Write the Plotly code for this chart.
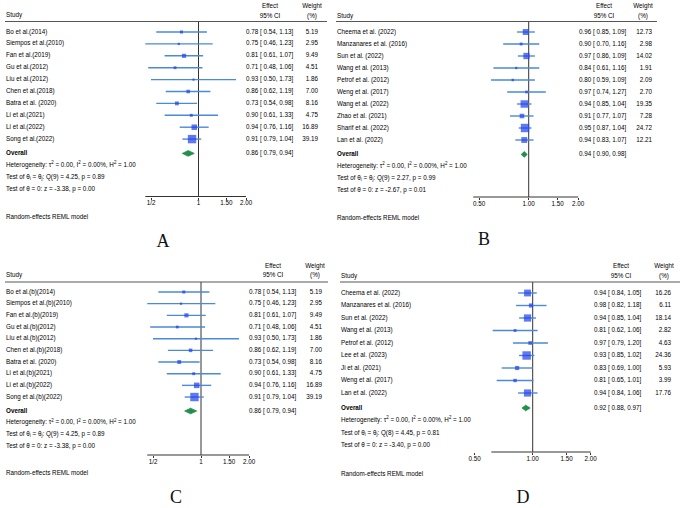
import math
import plotly.graph_objects as go

W, H = 682, 508

# ---------------- data ----------------
# Panel A
a_studies = ["Bo et al.(2014)", "Siempos et al.(2010)", "Fan et al.(2019)", "Gu et al.(2012)",
             "Liu et al.(2012)", "Chen et al.(2018)", "Batra et al. (2020)", "Li et al.(2021)",
             "Li et al.(2022)", "Song et al.(2022)"]
a_effect = [0.78, 0.75, 0.81, 0.71, 0.93, 0.86, 0.73, 0.90, 0.94, 0.91]
a_lower = [0.54, 0.46, 0.61, 0.48, 0.50, 0.62, 0.54, 0.61, 0.76, 0.79]
a_upper = [1.13, 1.23, 1.07, 1.06, 1.73, 1.19, 0.98, 1.33, 1.16, 1.04]
a_weight = [5.19, 2.95, 9.49, 4.51, 1.86, 7.00, 8.16, 4.75, 16.89, 39.19]
a_overall = [0.86, 0.79, 0.94]
a_het = "Heterogeneity: τ<sup>2</sup> = 0.00, I<sup>2</sup> = 0.00%, H<sup>2</sup> = 1.00"
a_q = "Test of θ<sub>i</sub> = θ<sub>j</sub>: Q(9) = 4.25, p = 0.89"
a_z = "Test of θ = 0: z = -3.38, p = 0.00"
a_ticktext = ["1/2", "1", "1.50", "2.00"]

# Panel B
b_studies = ["Cheema et al. (2022)", "Manzanares et al. (2016)", "Sun et al. (2022)", "Wang et al. (2013)",
             "Petrof et al. (2012)", "Weng et al. (2017)", "Wang et al. (2022)", "Zhao et al. (2021)",
             "Sharif et al. (2022)", "Lan et al. (2022)"]
b_effect = [0.96, 0.90, 0.97, 0.84, 0.80, 0.97, 0.94, 0.91, 0.95, 0.94]
b_lower = [0.85, 0.70, 0.86, 0.61, 0.59, 0.74, 0.85, 0.77, 0.87, 0.83]
b_upper = [1.09, 1.16, 1.09, 1.16, 1.09, 1.27, 1.04, 1.07, 1.04, 1.07]
b_weight = [12.73, 2.98, 14.02, 1.91, 2.09, 2.70, 19.35, 7.28, 24.72, 12.21]
b_overall = [0.94, 0.90, 0.98]
b_het = "Heterogeneity: τ<sup>2</sup> = 0.00, I<sup>2</sup> = 0.00%, H<sup>2</sup> = 1.00"
b_q = "Test of θ<sub>i</sub> = θ<sub>j</sub>: Q(9) = 2.27, p = 0.99"
b_z = "Test of θ = 0: z = -2.67, p = 0.01"
b_ticktext = ["0.50", "1.00", "1.50", "2.00"]

# Panel C
c_studies = ["Bo et al.(b)(2014)", "Siempos et al.(b)(2010)", "Fan et al.(b)(2019)", "Gu et al.(b)(2012)",
             "Liu et al.(b)(2012)", "Chen et al.(b)(2018)", "Batra et al. (2020)", "Li et al.(b)(2021)",
             "Li et al.(b)(2022)", "Song et al.(b)(2022)"]
c_effect = [0.78, 0.75, 0.81, 0.71, 0.93, 0.86, 0.73, 0.90, 0.94, 0.91]
c_lower = [0.54, 0.46, 0.61, 0.48, 0.50, 0.62, 0.54, 0.61, 0.76, 0.79]
c_upper = [1.13, 1.23, 1.07, 1.06, 1.73, 1.19, 0.98, 1.33, 1.16, 1.04]
c_weight = [5.19, 2.95, 9.49, 4.51, 1.86, 7.00, 8.16, 4.75, 16.89, 39.19]
c_overall = [0.86, 0.79, 0.94]
c_het = "Heterogeneity: τ<sup>2</sup> = 0.00, I<sup>2</sup> = 0.00%, H<sup>2</sup> = 1.00"
c_q = "Test of θ<sub>i</sub> = θ<sub>j</sub>: Q(9) = 4.25, p = 0.89"
c_z = "Test of θ = 0: z = -3.38, p = 0.00"
c_ticktext = ["1/2", "1", "1.50", "2.00"]

# Panel D
d_studies = ["Cheema et al. (2022)", "Manzanares et al. (2016)", "Sun et al. (2022)", "Wang et al. (2013)",
             "Petrof et al. (2012)", "Lee et al. (2023)", "Ji et al. (2021)", "Weng et al. (2017)",
             "Lan et al. (2022)"]
d_effect = [0.94, 0.98, 0.94, 0.81, 0.97, 0.93, 0.83, 0.81, 0.94]
d_lower = [0.84, 0.82, 0.85, 0.62, 0.79, 0.85, 0.69, 0.65, 0.84]
d_upper = [1.05, 1.18, 1.04, 1.06, 1.20, 1.02, 1.00, 1.01, 1.06]
d_weight = [16.26, 6.11, 18.14, 2.82, 4.63, 24.36, 5.93, 3.99, 17.76]
d_overall = [0.92, 0.88, 0.97]
d_het = "Heterogeneity: τ<sup>2</sup> = 0.00, I<sup>2</sup> = 0.00%, H<sup>2</sup> = 1.00"
d_q = "Test of θ<sub>i</sub> = θ<sub>j</sub>: Q(8) = 4.45, p = 0.81"
d_z = "Test of θ = 0: z = -3.40, p = 0.00"
d_ticktext = ["0.50", "1.00", "1.50", "2.00"]

tickvals = [0.5, 1, 1.5, 2]
model_label = "Random-effects REML model"

panels_data = [
    dict(studies=a_studies, eff=a_effect, lo=a_lower, hi=a_upper, wt=a_weight, ov=a_overall,
         het=a_het, q=a_q, z=a_z, ticktext=a_ticktext, letter="A"),
    dict(studies=b_studies, eff=b_effect, lo=b_lower, hi=b_upper, wt=b_weight, ov=b_overall,
         het=b_het, q=b_q, z=b_z, ticktext=b_ticktext, letter="B"),
    dict(studies=c_studies, eff=c_effect, lo=c_lower, hi=c_upper, wt=c_weight, ov=c_overall,
         het=c_het, q=c_q, z=c_z, ticktext=c_ticktext, letter="C"),
    dict(studies=d_studies, eff=d_effect, lo=d_lower, hi=d_upper, wt=d_weight, ov=d_overall,
         het=d_het, q=d_q, z=d_z, ticktext=d_ticktext, letter="D"),
]

# ---------------- layout geometry (pixels) ----------------
geom = [
    dict(x1=198.5, k2=47.5, y0=32, dy=11.9, axis_y=196.5, axis_lo=0.46, name_x=6, eff_x=246, wt_x=318,
         eff_hx=270, wt_hx=312, hdr1=6, hdr2=16, study_y=15, line_y=21.5, line_x=(5, 327), re_y=217,
         let_x=163, let_y=242),
    dict(x1=528.7, k2=49.5, y0=32, dy=12.0, axis_y=197, axis_lo=0.46, name_x=337, eff_x=579, wt_x=652,
         eff_hx=604, wt_hx=643, hdr1=6, hdr2=16, study_y=16.5, line_y=21.5, line_x=(336, 657), re_y=218,
         let_x=484, let_y=240),
    dict(x1=201, k2=48, y0=292, dy=11.67, axis_y=455, axis_lo=0.46, name_x=6, eff_x=249, wt_x=322,
         eff_hx=273, wt_hx=315, hdr1=266, hdr2=275, study_y=275, line_y=282, line_x=(5, 328), re_y=473,
         let_x=176, let_y=498),
    dict(x1=532.7, k2=58, y0=293, dy=12.5, axis_y=452, axis_lo=0.61, name_x=341, eff_x=594, wt_x=671,
         eff_hx=621, wt_hx=664, hdr1=266, hdr2=276.5, study_y=276.5, line_y=282, line_x=(340, 680), re_y=474,
         let_x=523, let_y=498),
]

FONT = "Liberation Sans, Arial, Helvetica, sans-serif"
FS = 6.3
TXT = "#000000"
MARKER = "#1c3ff0"
CI = "#4a8ad9"
GREEN = "#21904a"
VLINE = "#333333"

fig = go.Figure()
layout = dict(
    width=W, height=H, margin=dict(l=0, r=0, t=0, b=0, pad=0),
    paper_bgcolor="white", plot_bgcolor="rgba(0,0,0,0)", showlegend=False,
    xaxis5=dict(domain=[0, 1], range=[0, W], visible=False, anchor="free", position=0, fixedrange=True),
)

LOG2 = math.log10(2)

for i, (pd_, g) in enumerate(zip(panels_data, geom)):
    n = len(pd_["studies"])
    xa = f"x{i+1}"
    ya = f"y{i+1}"
    xt = "x5"
    r = lambda px, g=g: (px - g["y0"]) / g["dy"]  # pixel -> row units
    rows = list(range(n))
    r_ov, r_het, r_q, r_z = n + 0.2, n + 1.2, n + 2.2, n + 3.2

    layout[f"yaxis{i+1}"] = dict(domain=[0, 1], range=[(H - g["y0"]) / g["dy"], -g["y0"] / g["dy"]],
                                 visible=False, anchor="free", position=0, fixedrange=True)
    layout[f"xaxis{i+1}"] = dict(
        type="log", domain=[0, 1],
        range=[(0 - g["x1"]) / g["k2"] * LOG2, (W - g["x1"]) / g["k2"] * LOG2],
        anchor="free", position=1 - g["axis_y"] / H,
        showline=False, showgrid=False, zeroline=False,
        tickmode="array", tickvals=tickvals, ticktext=pd_["ticktext"],
        ticks="outside", ticklen=2, tickwidth=1, tickcolor=VLINE, ticklabelstandoff=-2,
        tickfont=dict(family=FONT, size=FS, color=TXT), fixedrange=True,
    )

    # axis line (from lowest limit to 2)
    fig.add_trace(go.Scatter(x=[g["axis_lo"], 2.0], y=[r(g["axis_y"])] * 2, mode="lines",
                             line=dict(color=VLINE, width=1), xaxis=xa, yaxis=ya, hoverinfo="skip"))
    # null line at 1
    fig.add_trace(go.Scatter(x=[1, 1], y=[r(g["line_y"]), r(g["axis_y"])], mode="lines",
                             line=dict(color=VLINE, width=1), xaxis=xa, yaxis=ya, hoverinfo="skip"))
    # CI lines
    cx, cy = [], []
    for k in range(n):
        cx += [pd_["lo"][k], pd_["hi"][k], None]
        cy += [k, k, None]
    fig.add_trace(go.Scatter(x=cx, y=cy, mode="lines", line=dict(color=CI, width=1.4),
                             xaxis=xa, yaxis=ya, hoverinfo="skip"))
    # squares
    wmax = max(pd_["wt"])
    sizes = [max(2.2, 8.4 * math.sqrt(w / wmax)) for w in pd_["wt"]]
    fig.add_trace(go.Scatter(x=pd_["eff"], y=rows, mode="markers",
                             marker=dict(symbol="square", size=sizes, color=MARKER, line=dict(width=0)),
                             xaxis=xa, yaxis=ya, hoverinfo="skip"))
    # overall diamond
    e, lo, hi = pd_["ov"]
    hh = 2.8 / g["dy"]
    fig.add_trace(go.Scatter(x=[lo, e, hi, e, lo], y=[r_ov, r_ov - hh, r_ov, r_ov + hh, r_ov],
                             mode="lines", fill="toself", fillcolor=GREEN, line=dict(color=GREEN, width=0.8),
                             xaxis=xa, yaxis=ya, hoverinfo="skip"))

    # header line
    fig.add_trace(go.Scatter(x=list(g["line_x"]), y=[r(g["line_y"])] * 2, mode="lines",
                             line=dict(color="#444444", width=0.9), xaxis=xt, yaxis=ya, hoverinfo="skip"))

    tfont = dict(family=FONT, size=FS, color=TXT)
    # left column: names, overall, stats, model
    left_text = pd_["studies"] + ["<b>Overall</b>", pd_["het"], pd_["q"], pd_["z"], model_label, "Study"]
    left_y = rows + [r_ov, r_het, r_q, r_z, r(g["re_y"]), r(g["study_y"])]
    fig.add_trace(go.Scatter(x=[g["name_x"]] * len(left_text), y=left_y, text=left_text, mode="text",
                             textposition="middle right", textfont=tfont, xaxis=xt, yaxis=ya,
                             hoverinfo="skip", cliponaxis=False))
    # effect column
    eff_text = [f"{pd_['eff'][k]:.2f} [ {pd_['lo'][k]:.2f}, {pd_['hi'][k]:.2f}]" for k in range(n)]
    eff_text.append(f"{e:.2f} [ {lo:.2f}, {hi:.2f}]")
    fig.add_trace(go.Scatter(x=[g["eff_x"]] * (n + 1), y=rows + [r_ov], text=eff_text, mode="text",
                             textposition="middle right", textfont=tfont, xaxis=xt, yaxis=ya,
                             hoverinfo="skip", cliponaxis=False))
    # weight column
    wt_text = [f"{w:.2f}" for w in pd_["wt"]]
    fig.add_trace(go.Scatter(x=[g["wt_x"]] * n, y=rows, text=wt_text, mode="text",
                             textposition="middle left", textfont=tfont, xaxis=xt, yaxis=ya,
                             hoverinfo="skip", cliponaxis=False))
    # column headers
    fig.add_trace(go.Scatter(x=[g["eff_hx"], g["eff_hx"], g["wt_hx"], g["wt_hx"]],
                             y=[r(g["hdr1"]), r(g["hdr2"]), r(g["hdr1"]), r(g["hdr2"])],
                             text=["Effect", "95% CI", "Weight", "(%)"], mode="text",
                             textposition="middle center", textfont=tfont, xaxis=xt, yaxis=ya,
                             hoverinfo="skip", cliponaxis=False))
    # panel letter
    fig.add_trace(go.Scatter(x=[g["let_x"]], y=[r(g["let_y"])], text=[pd_["letter"]], mode="text",
                             textposition="middle center",
                             textfont=dict(family="Liberation Serif, Times New Roman, serif", size=18, color="#111"),
                             xaxis=xt, yaxis=ya, hoverinfo="skip", cliponaxis=False))

fig.update_layout(**layout)
fig.write_html("out.html")
